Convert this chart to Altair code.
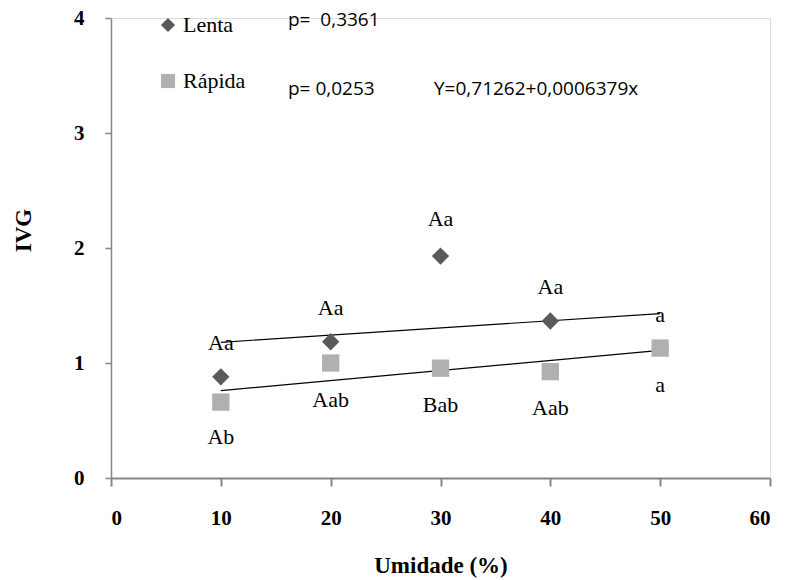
import altair as alt
import pandas as pd

# Germination speed index (IVG) by moisture content for two drying speeds
lenta_x = [10, 20, 30, 40]
lenta_ivg = [0.88, 1.185, 1.93, 1.365]
rapida_x = [10, 20, 30, 40, 50]
rapida_ivg = [0.66, 1.0, 0.955, 0.925, 1.13]

# fitted trend lines (end points)
trend_x = [10, 50]
lenta_trend = [1.18, 1.43]
rapida_trend = [0.76, 1.11]

# significance letters and their anchor heights
label_x = [10, 20, 30, 40, 50]
lenta_letters = ["Aa", "Aa", "Aa", "Aa", "a"]
lenta_letter_y = [1.17, 1.48, 2.25, 1.66, 1.42]
rapida_letters = ["Ab", "Aab", "Bab", "Aab", "a"]
rapida_letter_y = [0.36, 0.68, 0.635, 0.606, 0.81]

series = ["Lenta", "Rápida"]
colors = ["#5a5a5a", "#b0b0b0"]
shapes = ["diamond", "square"]

points = pd.DataFrame(
    {"x": lenta_x + rapida_x,
     "y": lenta_ivg + rapida_ivg,
     "s": ["Lenta"] * len(lenta_x) + ["Rápida"] * len(rapida_x)}
)
trends = pd.DataFrame(
    {"x": trend_x * 2,
     "y": lenta_trend + rapida_trend,
     "s": ["Lenta"] * 2 + ["Rápida"] * 2}
)
letters = pd.DataFrame(
    {"x": label_x * 2,
     "y": lenta_letter_y + rapida_letter_y,
     "t": lenta_letters + rapida_letters}
)

AXIS_GRAY = "#868686"
SERIF = "Liberation Serif"

x_scale = alt.Scale(domain=[0, 60], nice=False, zero=False)
y_scale = alt.Scale(domain=[0, 4], nice=False)

x_enc = alt.X(
    "x:Q", scale=x_scale,
    axis=alt.Axis(
        title="Umidade (%)", values=[0, 10, 20, 30, 40, 50, 60], grid=False,
        domainColor=AXIS_GRAY, tickColor=AXIS_GRAY, tickSize=8, tickWidth=2, domainWidth=2,
        labelFont=SERIF, labelFontSize=21, labelFontWeight="bold", labelColor="black",
        labelPadding=21, titleFont=SERIF, titleFontSize=23, titleFontWeight="bold",
        titleColor="black", titleBaseline="middle", titleY=87,
    ),
)
y_enc = alt.Y(
    "y:Q", scale=y_scale,
    axis=alt.Axis(
        title="IVG", values=[0, 1, 2, 3, 4], grid=False,
        domainColor=AXIS_GRAY, tickColor=AXIS_GRAY, tickSize=6, tickWidth=1.5, domainWidth=1.5,
        labelFont=SERIF, labelFontSize=21, labelFontWeight="bold", labelColor="black",
        labelPadding=21, titleFont=SERIF, titleFontSize=23, titleFontWeight="bold",
        titleColor="black", titleX=-88, titleY=212, titleBaseline="middle",
    ),
)

lines = alt.Chart(trends).mark_line(color="black", strokeWidth=1.2).encode(
    x=x_enc, y=y_enc, detail="s:N"
)

marks = alt.Chart(points).mark_point(filled=True, opacity=1, strokeWidth=0, size=300).encode(
    x=x_enc, y=y_enc,
    color=alt.Color(
        "s:N", scale=alt.Scale(domain=series, range=colors),
        legend=alt.Legend(
            title=None, orient="none", legendX=46, legendY=-4,
            labelFont=SERIF, labelFontSize=22, labelColor="black",
            symbolSize=200, rowPadding=34, labelOffset=4,
        ),
    ),
    shape=alt.Shape("s:N", scale=alt.Scale(domain=series, range=shapes)),
)

letter_text = alt.Chart(letters).mark_text(
    font=SERIF, fontSize=22, color="black", baseline="middle"
).encode(x=x_enc, y=y_enc, text="t:N")

SANS = "Open Sans"
NBSP = "\u00a0"
p_lenta = alt.Chart().mark_text(
    font=SANS, fontSize=19, color="black", align="left", baseline="middle"
).encode(x=alt.value(177), y=alt.value(2), text=alt.value("p=" + NBSP + NBSP + "0,3361"))
p_rapida = alt.Chart().mark_text(
    font=SANS, fontSize=19, color="black", align="left", baseline="middle"
).encode(x=alt.value(177), y=alt.value(71), text=alt.value("p= 0,0253"))
equation = alt.Chart().mark_text(
    font=SANS, fontSize=19, color="black", align="left", baseline="middle"
).encode(x=alt.value(323), y=alt.value(71), text=alt.value("Y=0,71262+0,0006379x"))

chart = alt.layer(lines, marks, letter_text, p_lenta, p_rapida, equation).properties(
    width=659, height=460,
    autosize=alt.AutoSizeParams(type="none"),
    padding={"left": 111, "top": 18, "right": 16, "bottom": 102},
).configure_view(stroke=None).configure(background="white")

chart.save("out.html", embed_options={"renderer": "svg", "actions": False})
